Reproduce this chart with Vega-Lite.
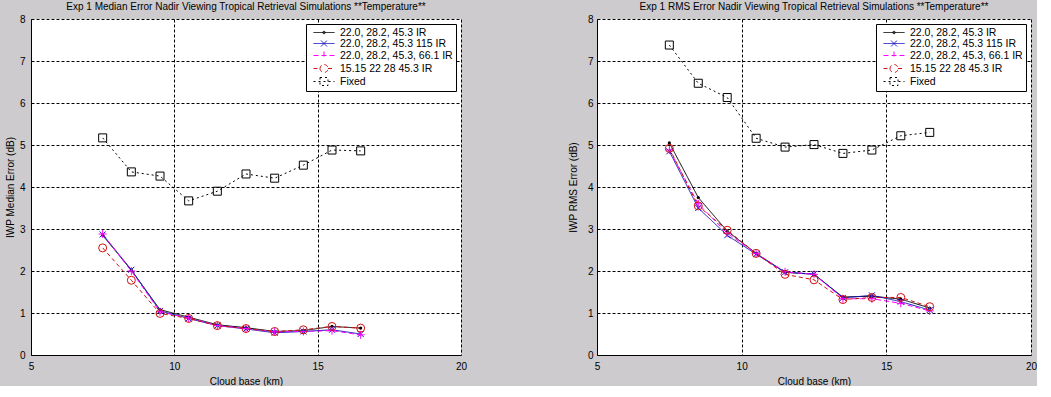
{
  "$schema": "https://vega.github.io/schema/vega-lite/v6.json",
  "background": "#cdcbcd",
  "padding": {"left": 5, "top": 2, "right": 0, "bottom": 0},
  "spacing": 101,
  "config": {
    "font": "Liberation Sans",
    "view": {"fill": "white", "stroke": null},
    "axis": {"labelFont": "Liberation Sans", "labelFontSize": 10, "labelColor": "black", "titleFont": "Liberation Sans", "titleFontSize": 10, "titleFontWeight": "normal", "titleColor": "black", "domainColor": "black", "domainWidth": 1, "tickSize": 0, "gridColor": "black", "gridDash": [3, 2], "gridOpacity": 1, "gridWidth": 1, "labelFlush": false, "labelOverlap": false},
    "title": {"font": "Liberation Sans", "fontSize": 10, "fontWeight": "normal", "color": "black", "offset": 2, "frame": "group", "anchor": "middle"},
    "legend": {"labelFont": "Liberation Sans", "labelFontSize": 10.5, "labelColor": "black"},
    "point": {"filled": false, "strokeWidth": 1, "size": 64, "opacity": 1}
  },
  "resolve": {"scale": {"color": "independent", "strokeDash": "independent"}, "legend": {"color": "independent"}},
  "datasets": {
    "pts": [
      {"panel": "median", "series": "22.0, 28.2, 45.3 IR", "x": 7.5, "y": 2.85},
      {"panel": "median", "series": "22.0, 28.2, 45.3 IR", "x": 8.5, "y": 2.02},
      {"panel": "median", "series": "22.0, 28.2, 45.3 IR", "x": 9.5, "y": 1.08},
      {"panel": "median", "series": "22.0, 28.2, 45.3 IR", "x": 10.5, "y": 0.9},
      {"panel": "median", "series": "22.0, 28.2, 45.3 IR", "x": 11.5, "y": 0.72},
      {"panel": "median", "series": "22.0, 28.2, 45.3 IR", "x": 12.5, "y": 0.65},
      {"panel": "median", "series": "22.0, 28.2, 45.3 IR", "x": 13.5, "y": 0.56},
      {"panel": "median", "series": "22.0, 28.2, 45.3 IR", "x": 14.5, "y": 0.58},
      {"panel": "median", "series": "22.0, 28.2, 45.3 IR", "x": 15.5, "y": 0.68},
      {"panel": "median", "series": "22.0, 28.2, 45.3 IR", "x": 16.5, "y": 0.64},
      {"panel": "median", "series": "22.0, 28.2, 45.3 115 IR", "x": 7.5, "y": 2.87},
      {"panel": "median", "series": "22.0, 28.2, 45.3 115 IR", "x": 8.5, "y": 2.03},
      {"panel": "median", "series": "22.0, 28.2, 45.3 115 IR", "x": 9.5, "y": 1.05},
      {"panel": "median", "series": "22.0, 28.2, 45.3 115 IR", "x": 10.5, "y": 0.87},
      {"panel": "median", "series": "22.0, 28.2, 45.3 115 IR", "x": 11.5, "y": 0.7},
      {"panel": "median", "series": "22.0, 28.2, 45.3 115 IR", "x": 12.5, "y": 0.62},
      {"panel": "median", "series": "22.0, 28.2, 45.3 115 IR", "x": 13.5, "y": 0.53},
      {"panel": "median", "series": "22.0, 28.2, 45.3 115 IR", "x": 14.5, "y": 0.56},
      {"panel": "median", "series": "22.0, 28.2, 45.3 115 IR", "x": 15.5, "y": 0.6},
      {"panel": "median", "series": "22.0, 28.2, 45.3 115 IR", "x": 16.5, "y": 0.5},
      {"panel": "median", "series": "22.0, 28.2, 45.3, 66.1 IR", "x": 7.5, "y": 2.88},
      {"panel": "median", "series": "22.0, 28.2, 45.3, 66.1 IR", "x": 8.5, "y": 2.0},
      {"panel": "median", "series": "22.0, 28.2, 45.3, 66.1 IR", "x": 9.5, "y": 1.03},
      {"panel": "median", "series": "22.0, 28.2, 45.3, 66.1 IR", "x": 10.5, "y": 0.88},
      {"panel": "median", "series": "22.0, 28.2, 45.3, 66.1 IR", "x": 11.5, "y": 0.7},
      {"panel": "median", "series": "22.0, 28.2, 45.3, 66.1 IR", "x": 12.5, "y": 0.63},
      {"panel": "median", "series": "22.0, 28.2, 45.3, 66.1 IR", "x": 13.5, "y": 0.55},
      {"panel": "median", "series": "22.0, 28.2, 45.3, 66.1 IR", "x": 14.5, "y": 0.56},
      {"panel": "median", "series": "22.0, 28.2, 45.3, 66.1 IR", "x": 15.5, "y": 0.58},
      {"panel": "median", "series": "22.0, 28.2, 45.3, 66.1 IR", "x": 16.5, "y": 0.48},
      {"panel": "median", "series": "15.15 22 28 45.3 IR", "x": 7.5, "y": 2.55},
      {"panel": "median", "series": "15.15 22 28 45.3 IR", "x": 8.5, "y": 1.78},
      {"panel": "median", "series": "15.15 22 28 45.3 IR", "x": 9.5, "y": 0.99},
      {"panel": "median", "series": "15.15 22 28 45.3 IR", "x": 10.5, "y": 0.87},
      {"panel": "median", "series": "15.15 22 28 45.3 IR", "x": 11.5, "y": 0.7},
      {"panel": "median", "series": "15.15 22 28 45.3 IR", "x": 12.5, "y": 0.63},
      {"panel": "median", "series": "15.15 22 28 45.3 IR", "x": 13.5, "y": 0.56},
      {"panel": "median", "series": "15.15 22 28 45.3 IR", "x": 14.5, "y": 0.6},
      {"panel": "median", "series": "15.15 22 28 45.3 IR", "x": 15.5, "y": 0.68},
      {"panel": "median", "series": "15.15 22 28 45.3 IR", "x": 16.5, "y": 0.64},
      {"panel": "median", "series": "Fixed", "x": 7.5, "y": 5.17},
      {"panel": "median", "series": "Fixed", "x": 8.5, "y": 4.36},
      {"panel": "median", "series": "Fixed", "x": 9.5, "y": 4.26},
      {"panel": "median", "series": "Fixed", "x": 10.5, "y": 3.67},
      {"panel": "median", "series": "Fixed", "x": 11.5, "y": 3.9},
      {"panel": "median", "series": "Fixed", "x": 12.5, "y": 4.31},
      {"panel": "median", "series": "Fixed", "x": 13.5, "y": 4.21},
      {"panel": "median", "series": "Fixed", "x": 14.5, "y": 4.52},
      {"panel": "median", "series": "Fixed", "x": 15.5, "y": 4.88},
      {"panel": "median", "series": "Fixed", "x": 16.5, "y": 4.86},
      {"panel": "rms", "series": "22.0, 28.2, 45.3 IR", "x": 7.5, "y": 5.05},
      {"panel": "rms", "series": "22.0, 28.2, 45.3 IR", "x": 8.5, "y": 3.75},
      {"panel": "rms", "series": "22.0, 28.2, 45.3 IR", "x": 9.5, "y": 2.95},
      {"panel": "rms", "series": "22.0, 28.2, 45.3 IR", "x": 10.5, "y": 2.42},
      {"panel": "rms", "series": "22.0, 28.2, 45.3 IR", "x": 11.5, "y": 1.97},
      {"panel": "rms", "series": "22.0, 28.2, 45.3 IR", "x": 12.5, "y": 1.92},
      {"panel": "rms", "series": "22.0, 28.2, 45.3 IR", "x": 13.5, "y": 1.38},
      {"panel": "rms", "series": "22.0, 28.2, 45.3 IR", "x": 14.5, "y": 1.4},
      {"panel": "rms", "series": "22.0, 28.2, 45.3 IR", "x": 15.5, "y": 1.33},
      {"panel": "rms", "series": "22.0, 28.2, 45.3 IR", "x": 16.5, "y": 1.12},
      {"panel": "rms", "series": "22.0, 28.2, 45.3 115 IR", "x": 7.5, "y": 4.85},
      {"panel": "rms", "series": "22.0, 28.2, 45.3 115 IR", "x": 8.5, "y": 3.5},
      {"panel": "rms", "series": "22.0, 28.2, 45.3 115 IR", "x": 9.5, "y": 2.85},
      {"panel": "rms", "series": "22.0, 28.2, 45.3 115 IR", "x": 10.5, "y": 2.4},
      {"panel": "rms", "series": "22.0, 28.2, 45.3 115 IR", "x": 11.5, "y": 1.97},
      {"panel": "rms", "series": "22.0, 28.2, 45.3 115 IR", "x": 12.5, "y": 1.93},
      {"panel": "rms", "series": "22.0, 28.2, 45.3 115 IR", "x": 13.5, "y": 1.36},
      {"panel": "rms", "series": "22.0, 28.2, 45.3 115 IR", "x": 14.5, "y": 1.42},
      {"panel": "rms", "series": "22.0, 28.2, 45.3 115 IR", "x": 15.5, "y": 1.27},
      {"panel": "rms", "series": "22.0, 28.2, 45.3 115 IR", "x": 16.5, "y": 1.07},
      {"panel": "rms", "series": "22.0, 28.2, 45.3, 66.1 IR", "x": 7.5, "y": 4.88},
      {"panel": "rms", "series": "22.0, 28.2, 45.3, 66.1 IR", "x": 8.5, "y": 3.6},
      {"panel": "rms", "series": "22.0, 28.2, 45.3, 66.1 IR", "x": 9.5, "y": 2.9},
      {"panel": "rms", "series": "22.0, 28.2, 45.3, 66.1 IR", "x": 10.5, "y": 2.42},
      {"panel": "rms", "series": "22.0, 28.2, 45.3, 66.1 IR", "x": 11.5, "y": 1.98},
      {"panel": "rms", "series": "22.0, 28.2, 45.3, 66.1 IR", "x": 12.5, "y": 1.92},
      {"panel": "rms", "series": "22.0, 28.2, 45.3, 66.1 IR", "x": 13.5, "y": 1.34},
      {"panel": "rms", "series": "22.0, 28.2, 45.3, 66.1 IR", "x": 14.5, "y": 1.34},
      {"panel": "rms", "series": "22.0, 28.2, 45.3, 66.1 IR", "x": 15.5, "y": 1.23},
      {"panel": "rms", "series": "22.0, 28.2, 45.3, 66.1 IR", "x": 16.5, "y": 1.05},
      {"panel": "rms", "series": "15.15 22 28 45.3 IR", "x": 7.5, "y": 4.92},
      {"panel": "rms", "series": "15.15 22 28 45.3 IR", "x": 8.5, "y": 3.55},
      {"panel": "rms", "series": "15.15 22 28 45.3 IR", "x": 9.5, "y": 2.97},
      {"panel": "rms", "series": "15.15 22 28 45.3 IR", "x": 10.5, "y": 2.42},
      {"panel": "rms", "series": "15.15 22 28 45.3 IR", "x": 11.5, "y": 1.92},
      {"panel": "rms", "series": "15.15 22 28 45.3 IR", "x": 12.5, "y": 1.79},
      {"panel": "rms", "series": "15.15 22 28 45.3 IR", "x": 13.5, "y": 1.32},
      {"panel": "rms", "series": "15.15 22 28 45.3 IR", "x": 14.5, "y": 1.37},
      {"panel": "rms", "series": "15.15 22 28 45.3 IR", "x": 15.5, "y": 1.37},
      {"panel": "rms", "series": "15.15 22 28 45.3 IR", "x": 16.5, "y": 1.15},
      {"panel": "rms", "series": "Fixed", "x": 7.5, "y": 7.38},
      {"panel": "rms", "series": "Fixed", "x": 8.5, "y": 6.47},
      {"panel": "rms", "series": "Fixed", "x": 9.5, "y": 6.13},
      {"panel": "rms", "series": "Fixed", "x": 10.5, "y": 5.16},
      {"panel": "rms", "series": "Fixed", "x": 11.5, "y": 4.95},
      {"panel": "rms", "series": "Fixed", "x": 12.5, "y": 5.01},
      {"panel": "rms", "series": "Fixed", "x": 13.5, "y": 4.8},
      {"panel": "rms", "series": "Fixed", "x": 14.5, "y": 4.88},
      {"panel": "rms", "series": "Fixed", "x": 15.5, "y": 5.22},
      {"panel": "rms", "series": "Fixed", "x": 16.5, "y": 5.3}
    ]
  },
  "hconcat": [
    {
      "width": 430,
      "height": 336,
      "title": {"text": "Exp 1 Median Error Nadir Viewing Tropical Retrieval Simulations **Temperature**"},
      "data": {"name": "pts"},
      "transform": [{"filter": "datum.panel == 'median'"}],
      "encoding": {
        "x": {"field": "x", "type": "quantitative", "scale": {"domain": [5, 20], "nice": false, "zero": false}, "axis": {"values": [5, 10, 15, 20], "title": "Cloud base (km)", "labelPadding": 6, "titlePadding": 5}},
        "y": {"field": "y", "type": "quantitative", "scale": {"domain": [0, 8], "nice": false}, "axis": {"values": [0, 1, 2, 3, 4, 5, 6, 7, 8], "title": "IWP Median Error (dB)", "labelPadding": 6, "titleX": -21, "titleBaseline": "middle", "minExtent": 26, "maxExtent": 26}}
      },
      "layer": [
        {"mark": {"type": "line", "strokeWidth": 1}, "encoding": {
          "color": {
            "field": "series", "type": "nominal",
            "scale": {"domain": ["22.0, 28.2, 45.3 IR", "22.0, 28.2, 45.3 115 IR", "22.0, 28.2, 45.3, 66.1 IR", "15.15 22 28 45.3 IR", "Fixed"], "range": ["#000000", "#1515c0", "#ff00ff", "#d01010", "#000000"]},
            "legend": {
              "orient": "top-right", "offset": 5, "title": null, "fillColor": "white", "strokeColor": "black", "padding": 3,
              "symbolSize": 100, "symbolOffset": 9.5, "labelOffset": 10.5, "rowPadding": 0, "symbolStrokeWidth": 1,
              "encode": {"symbols": {"update": {
                "fill": {"value": "transparent"},
                "shape": {"signal": "datum.value === 'Fixed' ? 'M-2.1,0H2.1M-0.8,-0.8H0.8V0.8H-0.8Z' : datum.value === '15.15 22 28 45.3 IR' ? 'M-2.1,0H-0.8M0.8,0H2.1M-0.8,0A0.8,0.8 0 1,0 0.8,0A0.8,0.8 0 1,0 -0.8,0' : datum.value === '22.0, 28.2, 45.3, 66.1 IR' ? 'M-2.1,0H2.1M0,-0.8V0.8' : datum.value === '22.0, 28.2, 45.3 115 IR' ? 'M-2.1,0H2.1M-0.6,-0.6L0.6,0.6M-0.6,0.6L0.6,-0.6' : 'M-2.1,0H2.1M-0.25,0A0.25,0.25 0 1,0 0.25,0A0.25,0.25 0 1,0 -0.25,0'"},
                "strokeDash": {"signal": "datum.value === 'Fixed' ? [2,2] : datum.value === '15.15 22 28 45.3 IR' ? [3,2] : datum.value === '22.0, 28.2, 45.3, 66.1 IR' ? [3,2] : [1,0]"}
              }}}
            }
          },
          "strokeDash": {"field": "series", "type": "nominal", "scale": {"domain": ["22.0, 28.2, 45.3 IR", "22.0, 28.2, 45.3 115 IR", "22.0, 28.2, 45.3, 66.1 IR", "15.15 22 28 45.3 IR", "Fixed"], "range": [[1, 0], [1, 0], [5, 3], [4, 3], [2, 3]]}, "legend": null}
        }},
        {"transform": [{"filter": "datum.series === '22.0, 28.2, 45.3 IR'"}], "mark": {"type": "point", "shape": "circle", "size": 10, "filled": true, "color": "#000000"}},
        {"transform": [{"filter": "datum.series === '22.0, 28.2, 45.3 115 IR'"}], "mark": {"type": "point", "shape": "M-0.75,-0.75L0.75,0.75M-0.75,0.75L0.75,-0.75", "color": "#1515c0"}},
        {"transform": [{"filter": "datum.series === '22.0, 28.2, 45.3, 66.1 IR'"}], "mark": {"type": "point", "shape": "M-1,0H1M0,-1V1", "color": "#ff00ff"}},
        {"transform": [{"filter": "datum.series === '15.15 22 28 45.3 IR'"}], "mark": {"type": "point", "shape": "circle", "color": "#d01010"}},
        {"transform": [{"filter": "datum.series === 'Fixed'"}], "mark": {"type": "point", "shape": "square", "color": "#000000"}}
      ]
    },
    {
      "width": 434,
      "height": 336,
      "title": {"text": "Exp 1 RMS Error Nadir Viewing Tropical Retrieval Simulations **Temperature**"},
      "data": {"name": "pts"},
      "transform": [{"filter": "datum.panel == 'rms'"}],
      "encoding": {
        "x": {"field": "x", "type": "quantitative", "scale": {"domain": [5, 20], "nice": false, "zero": false}, "axis": {"values": [5, 10, 15, 20], "title": "Cloud base (km)", "labelPadding": 6, "titlePadding": 5}},
        "y": {"field": "y", "type": "quantitative", "scale": {"domain": [0, 8], "nice": false}, "axis": {"values": [0, 1, 2, 3, 4, 5, 6, 7, 8], "title": "IWP RMS Error (dB)", "labelPadding": 4, "titleX": -24, "titleBaseline": "middle", "minExtent": 26, "maxExtent": 26}}
      },
      "layer": [
        {"mark": {"type": "line", "strokeWidth": 1}, "encoding": {
          "color": {
            "field": "series", "type": "nominal",
            "scale": {"domain": ["22.0, 28.2, 45.3 IR", "22.0, 28.2, 45.3 115 IR", "22.0, 28.2, 45.3, 66.1 IR", "15.15 22 28 45.3 IR", "Fixed"], "range": ["#000000", "#1515c0", "#ff00ff", "#d01010", "#000000"]},
            "legend": {
              "orient": "top-right", "offset": 5, "title": null, "fillColor": "white", "strokeColor": "black", "padding": 3,
              "symbolSize": 100, "symbolOffset": 9.5, "labelOffset": 10.5, "rowPadding": 0, "symbolStrokeWidth": 1,
              "encode": {"symbols": {"update": {
                "fill": {"value": "transparent"},
                "shape": {"signal": "datum.value === 'Fixed' ? 'M-2.1,0H2.1M-0.8,-0.8H0.8V0.8H-0.8Z' : datum.value === '15.15 22 28 45.3 IR' ? 'M-2.1,0H-0.8M0.8,0H2.1M-0.8,0A0.8,0.8 0 1,0 0.8,0A0.8,0.8 0 1,0 -0.8,0' : datum.value === '22.0, 28.2, 45.3, 66.1 IR' ? 'M-2.1,0H2.1M0,-0.8V0.8' : datum.value === '22.0, 28.2, 45.3 115 IR' ? 'M-2.1,0H2.1M-0.6,-0.6L0.6,0.6M-0.6,0.6L0.6,-0.6' : 'M-2.1,0H2.1M-0.25,0A0.25,0.25 0 1,0 0.25,0A0.25,0.25 0 1,0 -0.25,0'"},
                "strokeDash": {"signal": "datum.value === 'Fixed' ? [2,2] : datum.value === '15.15 22 28 45.3 IR' ? [3,2] : datum.value === '22.0, 28.2, 45.3, 66.1 IR' ? [3,2] : [1,0]"}
              }}}
            }
          },
          "strokeDash": {"field": "series", "type": "nominal", "scale": {"domain": ["22.0, 28.2, 45.3 IR", "22.0, 28.2, 45.3 115 IR", "22.0, 28.2, 45.3, 66.1 IR", "15.15 22 28 45.3 IR", "Fixed"], "range": [[1, 0], [1, 0], [5, 3], [4, 3], [2, 3]]}, "legend": null}
        }},
        {"transform": [{"filter": "datum.series === '22.0, 28.2, 45.3 IR'"}], "mark": {"type": "point", "shape": "circle", "size": 10, "filled": true, "color": "#000000"}},
        {"transform": [{"filter": "datum.series === '22.0, 28.2, 45.3 115 IR'"}], "mark": {"type": "point", "shape": "M-0.75,-0.75L0.75,0.75M-0.75,0.75L0.75,-0.75", "color": "#1515c0"}},
        {"transform": [{"filter": "datum.series === '22.0, 28.2, 45.3, 66.1 IR'"}], "mark": {"type": "point", "shape": "M-1,0H1M0,-1V1", "color": "#ff00ff"}},
        {"transform": [{"filter": "datum.series === '15.15 22 28 45.3 IR'"}], "mark": {"type": "point", "shape": "circle", "color": "#d01010"}},
        {"transform": [{"filter": "datum.series === 'Fixed'"}], "mark": {"type": "point", "shape": "square", "color": "#000000"}}
      ]
    }
  ]
}
